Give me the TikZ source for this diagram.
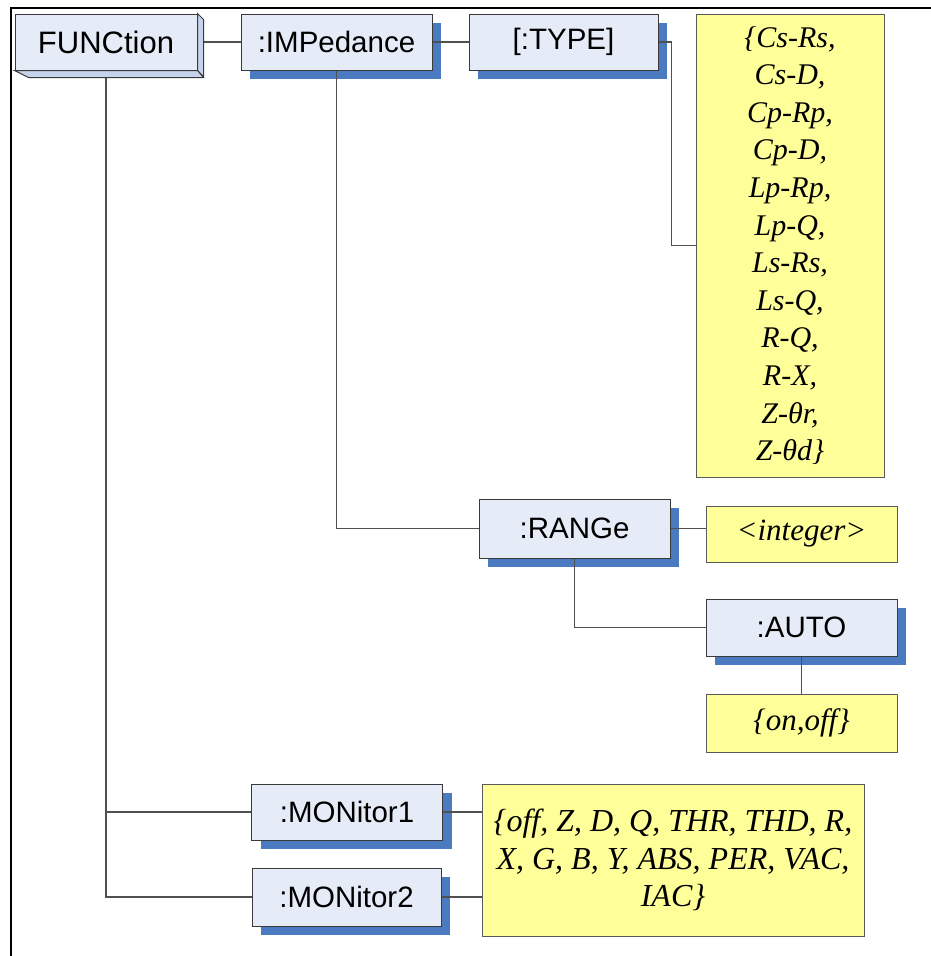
\documentclass[tikz,border=0pt]{standalone}
\usepackage{fontspec}
\setmainfont{Liberation Serif}
\setsansfont{Liberation Sans}
\usetikzlibrary{shadows}
\definecolor{cmdfill}{HTML}{E6ECF7}
\definecolor{cmdside}{HTML}{C6D3EC}
\definecolor{shadowblue}{HTML}{4A7BC1}
\definecolor{valfill}{HTML}{FFFF99}
\definecolor{edgegray}{HTML}{3A3A3A}
\definecolor{valedge}{HTML}{5A5A5A}
\definecolor{wire}{HTML}{505050}
\begin{document}
\begin{tikzpicture}[x=1pt,y=-1pt,
  cmd/.style={draw=edgegray, line width=1pt, fill=cmdfill, inner sep=0pt,
    font=\sffamily\fontsize{29.5}{34}\selectfont},
  cmdsh/.style={cmd, drop shadow={shadow xshift=9pt, shadow yshift=-9pt, fill=shadowblue, opacity=1}},
  val/.style={draw=valedge, line width=0.9pt, fill=valfill, inner sep=0pt, align=center,
    font=\itshape\fontsize{30}{37.6}\selectfont},
  wireline/.style={draw=wire, line width=1.1pt},
  frameline/.style={draw=black, line width=2pt}]
\useasboundingbox (0,0) rectangle (931,956);
% frame
\draw[frameline] (931,8) -- (11,8) -- (11,957);
% nodes
\node[cmd, minimum width=182pt, minimum height=56pt, font=\sffamily\fontsize{31}{34}\selectfont] (func) at (106,42) {FUNCtion};
\node[cmdsh, minimum width=191pt, minimum height=56pt] (imp) at (336.5,42) {:IMPedance};
\node[cmdsh, minimum width=189pt, minimum height=56pt] (type) at (563.5,42) {[:TYPE]};
\node[val, minimum width=188pt, minimum height=463pt] (typevals) at (790,245.5)
  {\{Cs-Rs,\\Cs-D,\\Cp-Rp,\\Cp-D,\\Lp-Rp,\\Lp-Q,\\Ls-Rs,\\Ls-Q,\\R-Q,\\R-X,\\Z-θr,\\Z-θd\}};
\node[cmdsh, minimum width=191pt, minimum height=59pt] (range) at (574.5,528.5) {:RANGe};
\node[val, minimum width=191pt, minimum height=56pt, font=\itshape\fontsize{31}{37.6}\selectfont] (integer) at (801.5,534) {<integer>};
\node[cmdsh, minimum width=191pt, minimum height=57pt] (auto) at (801.5,627.5) {:AUTO};
\node[val, minimum width=191pt, minimum height=58pt, font=\itshape\fontsize{31}{37.6}\selectfont] (onoff) at (801.5,723) {\{on,off\}};
\node[cmdsh, minimum width=191pt, minimum height=56pt] (mon1) at (347,812) {:MONitor1};
\node[cmdsh, minimum width=189pt, minimum height=58pt] (mon2) at (346.5,897) {:MONitor2};
\node[val, minimum width=382pt, minimum height=152pt, font=\itshape\fontsize{32}{37.6}\selectfont] (monvals) at (673,860)
  {\{off, Z, D, Q, THR, THD, R,\\X, G, B, Y, ABS, PER, VAC,\\IAC\}};
% connectors
\draw[wireline] (func.east) -- (imp.west);
\draw[wireline] (imp.east) -- (type.west);
\coordinate (typebend) at ([xshift=13pt]type.east);
\draw[wireline] (type.east) -- (typebend) |- (typevals.west);
\draw[wireline] (imp.south) |- (range.west);
\draw[wireline] (range.east) -- (range.east -| integer.west);
\draw[wireline] (range.south) |- (auto.west);
\draw[wireline] (auto.south) -- (onoff.north);
\draw[wireline] (func.south) |- (mon1.west);
\draw[wireline] (func.south) |- (mon2.west);
\draw[wireline] (mon1.east) -- (mon1.east -| monvals.west);
\draw[wireline] (mon2.east) -- (mon2.east -| monvals.west);
% 3D extrusion of FUNCtion
\filldraw[draw=edgegray, line width=1pt, fill=cmdside]
  (func.north east) -- ++(6,6) -- ++(0,57) -- (func.south east) -- cycle;
\filldraw[draw=edgegray, line width=1pt, fill=cmdside]
  (func.south west) -- (func.south east) -- ++(6,7) -- ++(-175,0) -- cycle;
\end{tikzpicture}
\end{document}
